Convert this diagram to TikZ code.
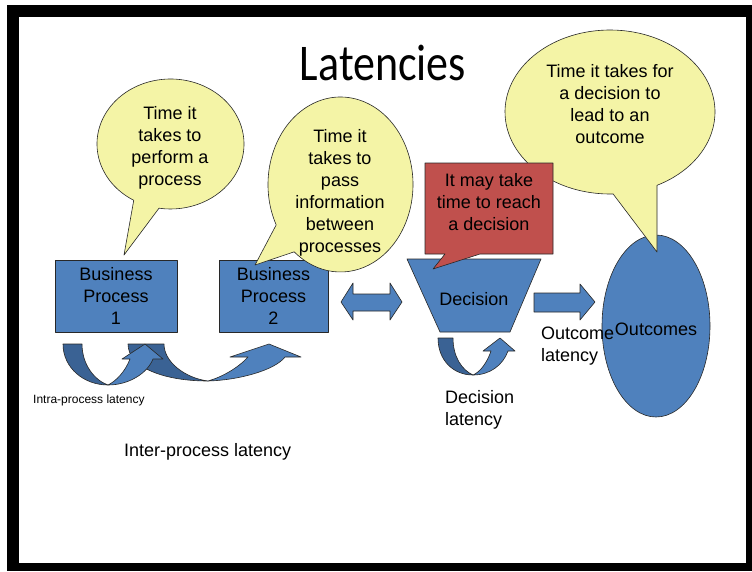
\documentclass[tikz,border=0pt]{standalone}
\usepackage{graphicx}
\usepackage{fontspec}
\setmainfont{Liberation Sans}
\newfontfamily\titlefont{Carlito}
\usetikzlibrary{calc}
\definecolor{bub}{RGB}{244,244,166}
\definecolor{pblue}{RGB}{79,129,189}
\definecolor{dblue}{RGB}{58,98,148}
\definecolor{pred}{RGB}{192,80,77}
\definecolor{edgec}{RGB}{40,40,40}
\begin{document}
\begin{tikzpicture}[x=1pt,y=-1pt,
  shapeline/.style={draw=edgec,line width=0.6pt,line join=round},
  bubble/.style={shapeline,fill=bub},
  bluefill/.style={shapeline,fill=pblue},
  darkfill/.style={shapeline,fill=dblue},
  txt/.style={inner sep=0pt,align=center,font=\fontsize{18}{22}\selectfont},
  ltxt/.style={inner sep=0pt,align=left,font=\fontsize{18}{22}\selectfont},
  box/.style={bluefill,inner sep=0pt,minimum width=122pt,minimum height=72pt,align=center,font=\fontsize{18}{22}\selectfont}]

\useasboundingbox (0,0) rectangle (752,571);
\fill[white] (0,0) rectangle (752,571);
\fill[black] (7,5) rectangle (752,571);
\fill[white] (19,17) rectangle (746,563);

\node[inner sep=0pt, font=\titlefont\fontsize{44}{50}\selectfont] (title) at (383,63) {\scalebox{1}[1.17]{Latencies}};

% bubble 1
\path[bubble] (170.5,144) ++(120:73.5 and 65) arc[start angle=120,end angle=459,x radius=73.5,y radius=65] -- (124,255) -- cycle;
\node[txt] (t1) at (170,148) {Time it\\takes to\\perform a\\process};

% process boxes
\node[box] (bp1) at (116,296) {Business\\Process\\1};
\node[box, minimum width=109pt] (bp2) at (273.5,296) {Business\\Process\\2};

% bubble 2
\path[bubble] (340.5,184.5) ++(152.5:72.5 and 87.5) arc[start angle=152.5,end angle=489.7,x radius=72.5,y radius=87.5] -- (255,265) -- cycle;
\node[txt] (t2) at (340,193) {Time it\\takes to\\pass\\information\\between\\processes};

% double arrow
\path[bluefill] (341,302) -- (353,283) -- (353,294) -- (390,294) -- (390,283) -- (402,302) -- (390,320) -- (390,311) -- (353,311) -- (353,320) -- cycle;

% decision
\path[bluefill] (407,259) -- (541,259) -- (510,332) -- (440,332) -- cycle;
\node[txt] (dec) at (474,299) {Decision};

% right arrow
\path[bluefill] (534,293) -- (580,293) -- (580,284) -- (595,302) -- (580,320) -- (580,312) -- (534,312) -- cycle;

% outcomes
\path[bluefill] (656,326) ellipse[x radius=54,y radius=91];
\node[txt] (out) at (656,329) {Outcomes};

% bubble 3
\path[bubble] (610,112) ++(88.3:105 and 82) arc[start angle=88.3,end angle=423.4,x radius=105,y radius=82] -- (657,252) -- cycle;
\node[txt] (t3) at (610,104) {Time it takes for\\a decision to\\lead to an\\outcome};

% red callout
\path[shapeline,fill=pred] (425,163) -- (553,163) -- (553,254) -- (480,254) -- (433,269) -- (445,254) -- (425,254) -- cycle;
\node[txt] (t4) at (489,202) {It may take\\time to reach\\a decision};

% curved arrow B (inter-process)
\path[darkfill] (128,344) -- (164,344) .. controls (164,362) and (185,378) .. (208,381) .. controls (165,381) and (128,368) .. (128,344) -- cycle;
\path[bluefill] (208,381) .. controls (240,380) and (275,370) .. (285,357) -- (301,357) -- (269,344) -- (230,357) -- (248,357) .. controls (238,368) and (222,377) .. (208,381) -- cycle;

% curved arrow A (intra-process)
\path[darkfill] (63,344) -- (82,344) .. controls (82,364) and (94,380) .. (108,385) .. controls (84,385) and (63,368) .. (63,344) -- cycle;
\path[bluefill] (108,385) .. controls (128,385) and (147,374) .. (153,359) -- (163,359) -- (145,344) -- (122,359) -- (130,359) .. controls (125,372) and (116,381) .. (108,385) -- cycle;

% curved arrow C (decision)
\path[darkfill] (438,338) -- (453,338) .. controls (453,357) and (462,370) .. (473,375) .. controls (453,375) and (438,360) .. (438,338) -- cycle;
\path[bluefill] (473,375) .. controls (490,375) and (503,365) .. (508,351) -- (515,351) -- (500,338) -- (483,351) -- (491,351) .. controls (487,363) and (480,372) .. (473,375) -- cycle;

% labels
\node[ltxt, anchor=west] (outlat) at (541,346) {Outcome\\latency};
\node[ltxt, anchor=west] (declat) at (445,410) {Decision\\latency};
\node[inner sep=0pt, anchor=west, font=\fontsize{12}{14}\selectfont] (intra) at (33,400) {Intra-process latency};
\node[inner sep=0pt, anchor=west, font=\fontsize{18}{22}\selectfont] (inter) at (124,452) {Inter-process latency};
\end{tikzpicture}
\end{document}
